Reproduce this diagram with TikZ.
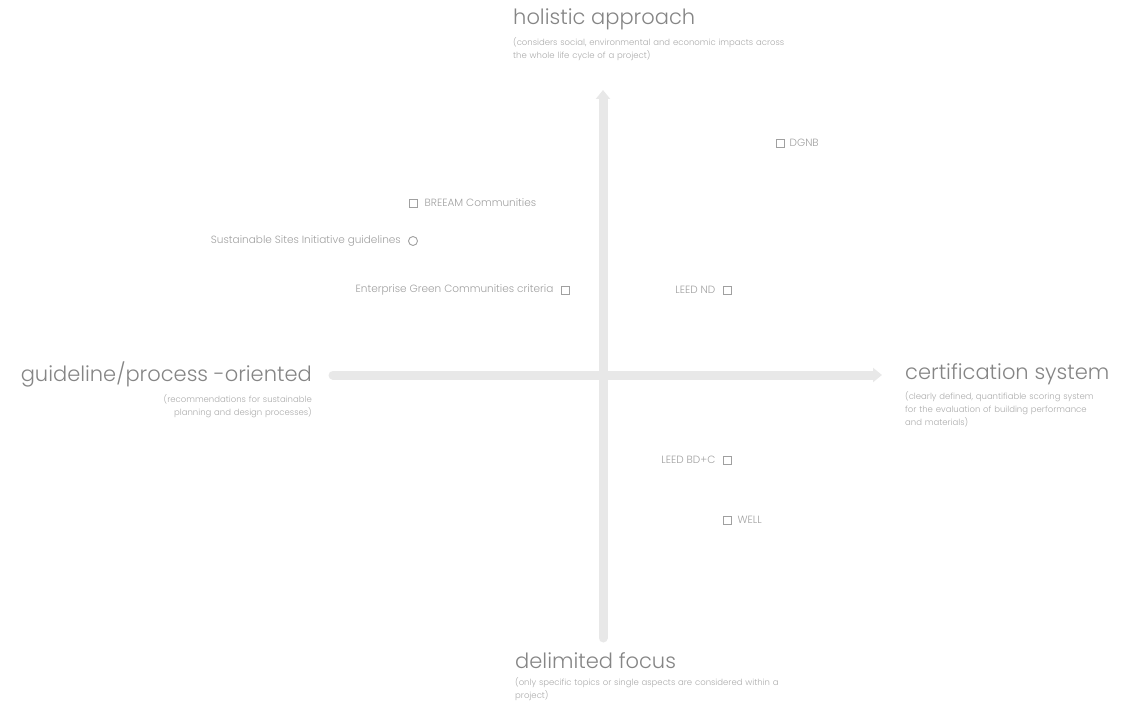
\documentclass[tikz,border=0pt]{standalone}
\usepackage{fontspec}
\IfFontExistsTF{Poppins Light}{\setmainfont{Poppins Light}}{\setmainfont{Poppins}}
\usetikzlibrary{arrows.meta,positioning}
\definecolor{axisgray}{HTML}{E8E8E8}
\definecolor{titlegray}{HTML}{858585}
\definecolor{subgray}{HTML}{ABABAB}
\definecolor{lblgray}{HTML}{A0A0A0}
\tikzset{
  axistitle/.style={inner sep=0pt, text=titlegray, font=\fontsize{21}{23}\selectfont},
  axissub/.style={inner sep=0pt, text=subgray, font=\fontsize{8.5}{13}\selectfont,
    execute at begin node={\hyphenpenalty=10000\relax}},
  sqbox/.style={draw=lblgray, line width=0.9pt, minimum size=8pt, inner sep=0pt},
  rndbox/.style={draw=lblgray, line width=0.9pt, circle, minimum size=9pt, inner sep=0pt},
  lbl/.style={inner sep=0pt, text=lblgray, font=\fontsize{10.5}{12}\selectfont},
  axisline/.style={axisgray, line width=9pt}
}
\begin{document}
\begin{tikzpicture}[x=1pt, y=-1pt, line cap=round, >=stealth]
  \useasboundingbox (0,0) rectangle (1147,708);
  % Achsen
  \coordinate (vtop) at (603,90);
  \coordinate (vbot) at (603,638);
  \coordinate (hleft) at (333,375);
  \coordinate (hright) at (882,375);
  \draw[axisline, -{Triangle[length=9pt,width=14pt]}] (vbot) -- (vtop);
  \draw[axisline, -{Triangle[length=9pt,width=14pt]}] (hleft) -- (hright);

  % Achsenbeschriftungen
  \node[axistitle, anchor=north west] (holistic) at (513,9) {holistic approach};
  \node[axissub, below=7pt of holistic.south west, anchor=north west, text width=285pt, align=left]
    (holisticsub) {(considers social, environmental and economic impacts across the whole life cycle of a project)};

  \node[axistitle, anchor=east] (guideline) at (312,374) {guideline/process -oriented};
  \node[axissub, below=7pt of guideline.south east, anchor=north east, text width=175pt, align=right]
    (guidelinesub) {(recommendations for sustainable planning and design processes)};

  \node[axistitle, anchor=west] (certification) at (905,374) {certification system};
  \node[axissub, below=7pt of certification.south west, anchor=north west, text width=190pt, align=left]
    (certificationsub) {(clearly defined, quantifiable scoring system for the evaluation of building performance and materials)};

  \node[axistitle, anchor=north west] (delimited) at (515,652) {delimited focus};
  \node[axissub, below=9pt of delimited.south west, anchor=north west, text width=275pt, align=left]
    (delimitedsub) {(only specific topics or single aspects are considered within a project)};

  % Systeme
  \node[sqbox] (dgnb) at (780,143) {};
  \node[lbl, right=5pt of dgnb] (dgnblbl) {DGNB};

  \node[sqbox] (breeam) at (413,203) {};
  \node[lbl, right=7pt of breeam] (breeamlbl) {BREEAM Communities};

  \node[rndbox] (sites) at (413,241) {};
  \node[lbl, left=7pt of sites] (siteslbl) {Sustainable Sites Initiative guidelines};

  \node[sqbox] (enterprise) at (565,290) {};
  \node[lbl, left=7pt of enterprise] (enterpriselbl) {Enterprise Green Communities criteria};

  \node[sqbox] (leednd) at (727,290) {};
  \node[lbl, left=7pt of leednd] (leedndlbl) {LEED ND};

  \node[sqbox] (leedbd) at (727,460) {};
  \node[lbl, left=7pt of leedbd] (leedbdlbl) {LEED BD+C};

  \node[sqbox] (well) at (727,520) {};
  \node[lbl, right=6pt of well] (welllbl) {WELL};
\end{tikzpicture}
\end{document}
